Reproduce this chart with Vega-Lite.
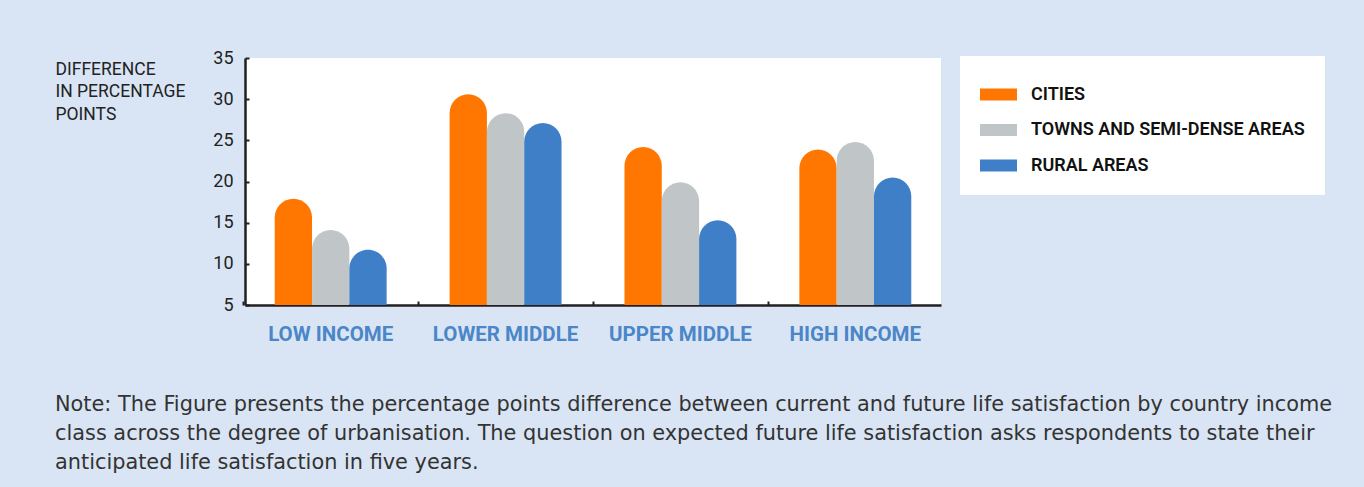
{
  "$schema": "https://vega.github.io/schema/vega-lite/v6.json",
  "width": 696,
  "height": 247,
  "autosize": {"type": "none"},
  "padding": {"left": 245, "top": 58, "right": 423, "bottom": 182},
  "background": "#D9E5F4",
  "config": {"view": {"fill": "white", "stroke": null}, "font": "Roboto"},
  "title": {
    "text": [
      "Note: The Figure presents the percentage points difference between current and future life satisfaction by country income",
      "class across the degree of urbanisation. The question on expected future life satisfaction asks respondents to state their",
      "anticipated life satisfaction in five years."
    ],
    "orient": "bottom",
    "anchor": "start",
    "frame": "group",
    "dx": -190,
    "offset": 50,
    "fontSize": 20.85,
    "font": "DejaVu Sans",
    "fontWeight": "normal",
    "color": "#333333",
    "lineHeight": 29,
    "baseline": "top"
  },
  "data": {
    "values": [
      {"income": "LOW INCOME", "area": "CITIES", "value": 17.9},
      {"income": "LOW INCOME", "area": "TOWNS AND SEMI-DENSE AREAS", "value": 14.1},
      {"income": "LOW INCOME", "area": "RURAL AREAS", "value": 11.7},
      {"income": "LOWER MIDDLE", "area": "CITIES", "value": 30.6},
      {"income": "LOWER MIDDLE", "area": "TOWNS AND SEMI-DENSE AREAS", "value": 28.3},
      {"income": "LOWER MIDDLE", "area": "RURAL AREAS", "value": 27.1},
      {"income": "UPPER MIDDLE", "area": "CITIES", "value": 24.2},
      {"income": "UPPER MIDDLE", "area": "TOWNS AND SEMI-DENSE AREAS", "value": 19.9},
      {"income": "UPPER MIDDLE", "area": "RURAL AREAS", "value": 15.3},
      {"income": "HIGH INCOME", "area": "CITIES", "value": 23.9},
      {"income": "HIGH INCOME", "area": "TOWNS AND SEMI-DENSE AREAS", "value": 24.8},
      {"income": "HIGH INCOME", "area": "RURAL AREAS", "value": 20.5}
    ]
  },
  "mark": {"type": "bar", "cornerRadiusTopLeft": 19, "cornerRadiusTopRight": 19},
  "encoding": {
    "x": {
      "field": "income",
      "type": "nominal",
      "sort": ["LOW INCOME", "LOWER MIDDLE", "UPPER MIDDLE", "HIGH INCOME"],
      "scale": {"paddingInner": 0.36, "paddingOuter": 0.17},
      "axis": {
        "title": null,
        "labelColor": "#4A86C8",
        "labelFontSize": 20.5,
        "labelFontWeight": "bold",
        "labelAngle": 0,
        "domainColor": "#231F20",
        "domainWidth": 2.5,
        "tickColor": "#231F20",
        "tickWidth": 2,
        "tickSize": -4,
        "bandPosition": -0.28,
        "labelPadding": 23
      }
    },
    "xOffset": {
      "field": "area",
      "sort": ["CITIES", "TOWNS AND SEMI-DENSE AREAS", "RURAL AREAS"],
      "scale": {"paddingInner": 0, "paddingOuter": 0}
    },
    "y": {
      "field": "value",
      "type": "quantitative",
      "scale": {"domain": [5, 35], "zero": false, "nice": false},
      "axis": {
        "title": ["DIFFERENCE", "IN PERCENTAGE", "POINTS"],
        "titleAngle": 0,
        "titleAlign": "left",
        "titleBaseline": "top",
        "titleX": -190,
        "titleY": 2,
        "titleFontSize": 17.5,
        "titleFontWeight": "normal",
        "titleColor": "#222222",
        "titleLineHeight": 22.5,
        "values": [5, 10, 15, 20, 25, 30, 35],
        "grid": false,
        "domainColor": "#231F20",
        "domainWidth": 2.5,
        "tickColor": "#231F20",
        "tickWidth": 2,
        "tickSize": -4,
        "labelFontSize": 18,
        "labelColor": "#222222",
        "labelPadding": 16
      }
    },
    "y2": {"datum": 5},
    "color": {
      "field": "area",
      "type": "nominal",
      "sort": ["CITIES", "TOWNS AND SEMI-DENSE AREAS", "RURAL AREAS"],
      "scale": {
        "domain": ["CITIES", "TOWNS AND SEMI-DENSE AREAS", "RURAL AREAS"],
        "range": ["#FF7700", "#C0C5C8", "#3F7FC7"]
      },
      "legend": {
        "orient": "none",
        "legendX": 715,
        "legendY": -2,
        "title": null,
        "fillColor": "white",
        "padding": 20,
        "symbolType": "M-1,-0.32H1V0.32H-1Z",
        "symbolSize": 1369,
        "symbolStrokeWidth": 0,
        "labelFontSize": 18,
        "labelFontWeight": 600,
        "labelColor": "#111111",
        "labelOffset": 14,
        "labelLimit": 400,
        "rowPadding": 7.5
      }
    }
  }
}
